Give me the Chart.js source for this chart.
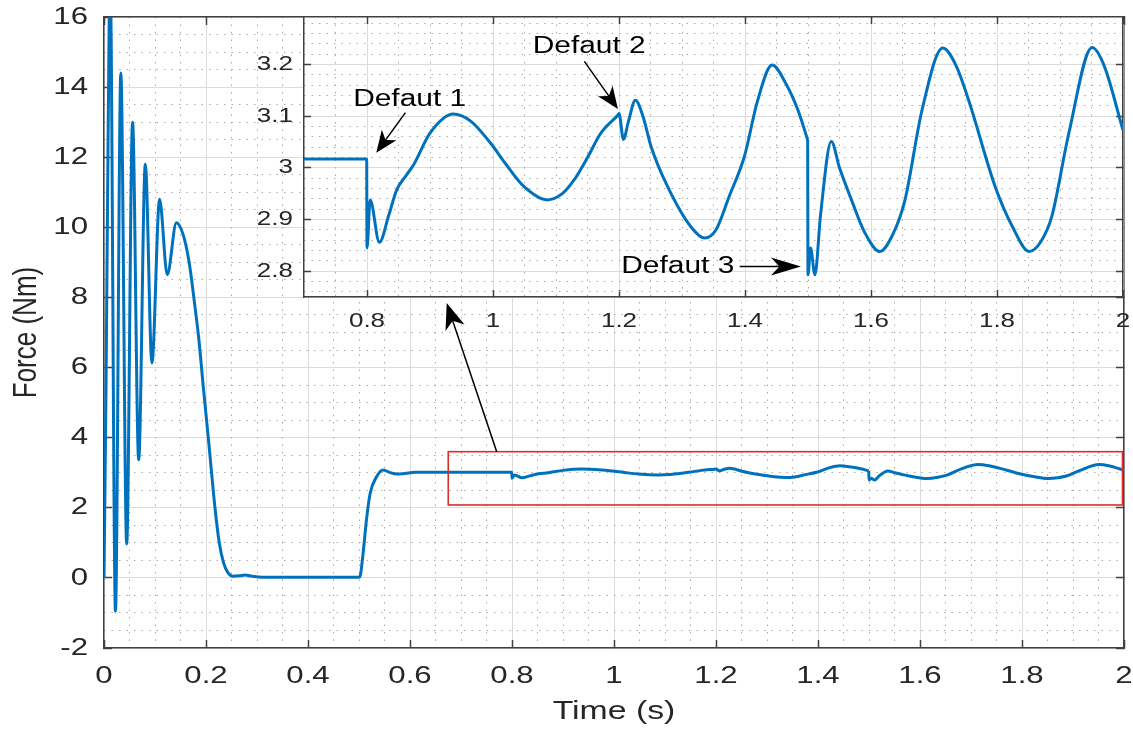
<!DOCTYPE html>
<html>
<head>
<meta charset="utf-8">
<script src="https://cdn.jsdelivr.net/npm/chart.js@4.4.1/dist/chart.umd.min.js"></script>
<style>
  html, body { margin: 0; padding: 0; background: #fff; }
  #wrap { position: relative; width: 1133px; height: 729px; overflow: hidden; }
  #mainChart { position: absolute; left: 0; top: 0; }
  #zoomChart { position: absolute; left: 230px; top: 0; }
</style>
</head>
<body>
<div id="wrap">
  <canvas id="mainChart" width="1133" height="729"></canvas>
  <canvas id="zoomChart" width="903" height="345"></canvas>
</div>
<script>
// force response, time in s
var timeS = [
  0, 0.004, 0.008, 0.012, 0.0225, 0.033, 0.0445, 0.056, 0.068, 0.081,
  0.094, 0.109, 0.124, 0.142, 0.155, 0.167, 0.177, 0.186, 0.195, 0.2045,
  0.2176, 0.226, 0.234, 0.243, 0.253, 0.265, 0.277, 0.29, 0.31, 0.5,
  0.503, 0.508, 0.515, 0.522, 0.535, 0.547, 0.56, 0.574, 0.59, 0.61,
  0.65, 0.7995, 0.8, 0.805, 0.8196, 0.835, 0.847, 0.862, 0.874, 0.9,
  0.937, 0.965, 0.996, 1.02, 1.049, 1.086, 1.11, 1.129, 1.15, 1.171,
  1.198, 1.2, 1.207, 1.215, 1.226, 1.238, 1.251, 1.277, 1.314, 1.336,
  1.354, 1.375, 1.399, 1.42, 1.443, 1.465, 1.484, 1.4995, 1.5, 1.504,
  1.511, 1.52, 1.537, 1.55, 1.569, 1.59, 1.614, 1.635, 1.654, 1.681,
  1.714, 1.735, 1.755, 1.797, 1.825, 1.851, 1.87, 1.887, 1.914, 1.951,
  1.97, 2.0
];
// force in Nm
var forceNm = [
  0, 5.5, 12.5, 17.2, -0.95, 14.4, 0.97, 13.0, 3.37, 11.8,
  6.13, 10.8, 8.65, 10.13, 9.8, 9.0, 7.9, 6.8, 5.4, 4.0,
  2.0, 1.0, 0.45, 0.15, 0.05, 0.06, 0.08, 0.05, 0.02, 0.02,
  0.1, 0.7, 1.7, 2.42, 2.9, 3.08, 3.01, 2.96, 2.98, 3.01,
  3.017, 3.017, 2.845, 2.938, 2.856, 2.91, 2.957, 2.985, 3.006, 3.067,
  3.104, 3.09, 3.048, 3.008, 2.964, 2.938, 2.95, 2.977, 3.02, 3.067,
  3.102, 3.105, 3.055, 3.09, 3.131, 3.1, 3.041, 2.964, 2.886, 2.864,
  2.88, 2.945, 3.022, 3.13, 3.199, 3.163, 3.112, 3.054, 2.793, 2.845,
  2.793, 2.91, 3.051, 3.0, 2.938, 2.875, 2.838, 2.872, 2.938, 3.112,
  3.232, 3.198, 3.131, 2.964, 2.885, 2.838, 2.858, 2.906, 3.067, 3.233,
  3.198, 3.073
];
// the third fault drops the force almost instantly: the curve is split there
// so the smoothing of one side does not bend the other
var dropTime = 1.4995;

var xTicksMain = [0, 0.2, 0.4, 0.6, 0.8, 1, 1.2, 1.4, 1.6, 1.8, 2];
var yTicksMain = [-2, 0, 2, 4, 6, 8, 10, 12, 14, 16];
var xTicksZoom = [0.8, 1, 1.2, 1.4, 1.6, 1.8, 2];
var yTicksZoom = [2.8, 2.9, 3, 3.1, 3.2];

// fault markers in the zoom axes: label anchor, arrow tail, arrow tip
var faultNames = ['Defaut 1', 'Defaut 2', 'Defaut 3'];
var faultText = [[0.778, 3.132], [1.063, 3.235], [1.2036, 2.808]];
var faultTail = [[0.861, 3.107], [1.145, 3.206], [1.3916, 2.809]];
var faultTip = [[0.8147, 3.029], [1.1983, 3.114], [1.4888, 2.809]];

// red frame on the main axes around the zoomed window
var zoomBox = { x0: 0.675, x1: 1.997, y0: 2.08, y1: 3.6 };
var zoomArrow = { x0: 0.770, y0: 3.6, x1: 0.672, y1: 7.84 };

var FONT = "'Liberation Sans', Arial, Helvetica, sans-serif";
var TEXT = '#262626';
var AXIS = '#404040';
var GRID = '#dcdcdc';
var MINOR = '#ababab';
var BLUE = '#0072BD';

function points(from, to) {
  var out = [];
  timeS.forEach(function (t, i) {
    if (t >= from && t <= to) out.push({ x: t, y: forceNm[i] });
  });
  return out;
}

function forceSeries() {
  var style = {
    borderColor: BLUE,
    borderWidth: 3,
    pointRadius: 0,
    fill: false,
    cubicInterpolationMode: 'monotone'
  };
  return [
    Object.assign({ data: points(-1, dropTime) }, style),
    Object.assign({ data: points(dropTime, 99) }, style)
  ];
}

function setTicks(values) {
  return function (scale) {
    scale.ticks = values.map(function (v) { return { value: v }; });
  };
}

// minor grid positions, skipping the ones that land on a major line
function minorTicks(lo, hi, step, every) {
  var out = [];
  for (var i = Math.ceil(lo / step - 1e-9); i * step <= hi + 1e-9; i++) {
    var v = +(i * step).toFixed(4);
    if (i % every !== 0 && v > lo && v < hi) out.push(v);
  }
  return out;
}

function fixSize(w, h) {
  return function (scale) {
    if (w !== null) scale.width = w;
    if (h !== null) scale.height = h;
    scale.paddingLeft = scale.paddingRight = 0;
    scale.paddingTop = scale.paddingBottom = 0;
  };
}

function tickText(v) {
  return String(Math.round(v * 100) / 100);
}

// axis text here is set wide: stretch glyphs horizontally about their anchor
function widenText(ctx, k) {
  var baseFill = ctx.fillText;
  ctx.fillText = function (text, x, y, maxWidth) {
    var m = this.getTransform();
    var px = m.a * x + m.c * y + m.e;
    var py = m.b * x + m.d * y + m.f;
    this.save();
    this.setTransform(new DOMMatrix().translate(px, py).scale(k, 1).translate(-px, -py).multiply(m));
    if (maxWidth === undefined) baseFill.call(this, text, x, y);
    else baseFill.call(this, text, x, y, maxWidth);
    this.restore();
  };
  return ctx;
}

function drawArrow(ctx, x0, y0, x1, y1, len, half) {
  var a = Math.atan2(y1 - y0, x1 - x0);
  var c = Math.cos(a), s = Math.sin(a);
  ctx.beginPath();
  ctx.moveTo(x0, y0);
  ctx.lineTo(x1 - c * len * 0.7, y1 - s * len * 0.7);
  ctx.stroke();
  ctx.beginPath();
  ctx.moveTo(x1, y1);
  ctx.lineTo(x1 - c * len - s * half, y1 - s * len + c * half);
  ctx.lineTo(x1 - c * len * 0.72, y1 - s * len * 0.72);
  ctx.lineTo(x1 - c * len + s * half, y1 - s * len - c * half);
  ctx.closePath();
  ctx.fill();
}

// major axis with inward ticks, labels and optional title
function majorAxis(pos, min, max, ticks, w, h, font, pad, tickLen, title) {
  var cfg = {
    type: 'linear', position: pos, min: min, max: max,
    afterBuildTicks: setTicks(ticks),
    afterFit: fixSize(w, h),
    grid: { color: GRID, lineWidth: 1, tickColor: AXIS, tickWidth: 1.5, tickLength: -tickLen },
    border: { color: AXIS, width: 1.5 },
    ticks: { color: TEXT, font: { family: FONT, size: font }, padding: pad, autoSkip: false, maxRotation: 0, callback: tickText }
  };
  if (title) cfg.title = title;
  return cfg;
}

// mirrored axis on the opposite side: box edge and inward ticks only
function mirrorAxis(pos, min, max, ticks, tickLen) {
  var horiz = pos === 'top';
  return {
    type: 'linear', position: pos, min: min, max: max,
    afterBuildTicks: setTicks(ticks),
    afterFit: fixSize(horiz ? null : 0, horiz ? 0 : null),
    grid: { drawOnChartArea: false, tickColor: AXIS, tickWidth: 1.5, tickLength: -tickLen },
    border: { color: AXIS, width: 1.5 },
    ticks: { display: false }
  };
}

// dotted minor grid
function minorAxis(pos, min, max, ticks) {
  var horiz = pos === 'bottom';
  return {
    type: 'linear', position: pos, min: min, max: max,
    afterBuildTicks: setTicks(ticks),
    afterFit: fixSize(horiz ? null : 0, horiz ? 0 : null),
    grid: { color: MINOR, lineWidth: 1, drawTicks: false },
    border: { display: false, dash: [1.5, 6] },
    ticks: { display: false }
  };
}

var zoomFrame = {
  id: 'zoomFrame',
  afterDatasetsDraw: function (chart) {
    var ctx = chart.ctx, x = chart.scales.x, y = chart.scales.y;
    ctx.save();
    ctx.strokeStyle = 'rgb(222,45,45)';
    ctx.lineWidth = 1.6;
    var l = x.getPixelForValue(zoomBox.x0), r = x.getPixelForValue(zoomBox.x1);
    var t = y.getPixelForValue(zoomBox.y1), b = y.getPixelForValue(zoomBox.y0);
    ctx.strokeRect(l, t, r - l, b - t);
    ctx.strokeStyle = '#000';
    ctx.fillStyle = '#000';
    ctx.lineWidth = 1.5;
    drawArrow(ctx, x.getPixelForValue(zoomArrow.x0), y.getPixelForValue(zoomArrow.y0),
      x.getPixelForValue(zoomArrow.x1), y.getPixelForValue(zoomArrow.y1), 26, 10);
    ctx.restore();
  }
};

var insetBackground = {
  id: 'insetBackground',
  beforeDraw: function (chart) {
    var a = chart.chartArea;
    chart.ctx.save();
    chart.ctx.fillStyle = '#fff';
    chart.ctx.fillRect(a.left, a.top, a.right - a.left, a.bottom - a.top);
    chart.ctx.restore();
  }
};

var faultNotes = {
  id: 'faultNotes',
  afterDatasetsDraw: function (chart) {
    var ctx = chart.ctx, x = chart.scales.x, y = chart.scales.y;
    ctx.save();
    ctx.fillStyle = '#000';
    ctx.strokeStyle = '#000';
    ctx.lineWidth = 1.5;
    ctx.font = '23px ' + FONT;
    ctx.textAlign = 'left';
    ctx.textBaseline = 'middle';
    faultNames.forEach(function (name, i) {
      ctx.fillText(name, x.getPixelForValue(faultText[i][0]), y.getPixelForValue(faultText[i][1]));
      var len = i === 2 ? 30 : 22;
      drawArrow(ctx, x.getPixelForValue(faultTail[i][0]), y.getPixelForValue(faultTail[i][1]),
        x.getPixelForValue(faultTip[i][0]), y.getPixelForValue(faultTip[i][1]), len, 9);
    });
    ctx.restore();
  }
};

var mainCtx = widenText(document.getElementById('mainChart').getContext('2d'), 1.3);
var mainChart = new Chart(mainCtx, {
  type: 'line',
  data: { datasets: forceSeries() },
  options: {
    responsive: false,
    animation: false,
    events: [],
    layout: { padding: { top: 17, right: 9, left: 0, bottom: 0 } },
    plugins: { legend: { display: false }, tooltip: { enabled: false } },
    scales: {
      x: majorAxis('bottom', 0, 2, xTicksMain, null, 81, 24, 22, 8, {
        display: true, text: 'Time (s)', color: TEXT,
        font: { family: FONT, size: 26 }, padding: { top: 0, bottom: 2 }
      }),
      y: majorAxis('left', -2, 16, yTicksMain, 104, null, 24, 24, 8, {
        display: true, text: 'Force (Nm)', color: TEXT,
        font: { family: FONT, size: 26 }, padding: { top: 11, bottom: 0 }
      }),
      xMinor: minorAxis('bottom', 0, 2, minorTicks(0, 2, 0.05, 4)),
      yMinor: minorAxis('left', -2, 16, minorTicks(-2, 16, 0.5, 4)),
      xTop: mirrorAxis('top', 0, 2, xTicksMain, 8),
      yRight: mirrorAxis('right', -2, 16, yTicksMain, 8)
    }
  },
  plugins: [zoomFrame]
});

var zoomCtx = widenText(document.getElementById('zoomChart').getContext('2d'), 1.3);
var zoomChart = new Chart(zoomCtx, {
  type: 'line',
  data: { datasets: forceSeries() },
  options: {
    responsive: false,
    animation: false,
    events: [],
    layout: { padding: { top: 17, right: 10, left: 0, bottom: 0 } },
    plugins: { legend: { display: false }, tooltip: { enabled: false } },
    scales: {
      x: majorAxis('bottom', 0.7, 2, xTicksZoom, null, 48, 20, 19, 7),
      y: majorAxis('left', 2.75, 3.292, yTicksZoom, 74, null, 20, 18, 7),
      xMinor: minorAxis('bottom', 0.7, 2, minorTicks(0.7, 2, 0.05, 4)),
      yMinor: minorAxis('left', 2.75, 3.292, minorTicks(2.75, 3.292, 0.02, 5)),
      xTop: mirrorAxis('top', 0.7, 2, xTicksZoom, 7),
      yRight: mirrorAxis('right', 2.75, 3.292, yTicksZoom, 7)
    }
  },
  plugins: [insetBackground, faultNotes]
});
</script>
</body>
</html>
